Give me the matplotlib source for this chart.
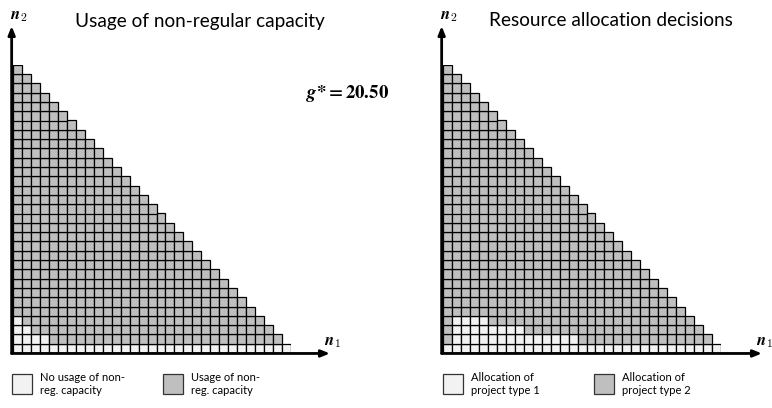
import numpy as np
import matplotlib
matplotlib.use("Agg")
import matplotlib.pyplot as plt
from matplotlib.patches import Rectangle

# grid of states n1 + n2 <= N
N = 30

# left panel: per row n2, the first k cells are white (no usage of non-regular capacity)
left_white_count = [31, 4, 2, 1]
# right panel: per row n2, the range of n1 that allocates project type 1
right_white_range = [(0, 30), (1, 14), (1, 8), (1, 4)]

titles = ["Usage of non-regular capacity", "Resource allocation decisions"]
legend_labels = [
    ["No usage of non-\nreg. capacity", "Usage of non-\nreg. capacity"],
    ["Allocation of\nproject type 1", "Allocation of\nproject type 2"],
]
g_star = 20.50

LIGHT = "#f2f2f2"
GREY = "#bfbfbf"

W, H = 772, 408
fig = plt.figure(figsize=(W / 100, H / 100), dpi=100)


def build_grid(white_rows):
    z = np.full((N + 1, N + 1), np.nan)
    for n2 in range(N + 1):
        for n1 in range(N + 1 - n2):
            z[n2, n1] = 1.0
    for n2, cells in enumerate(white_rows):
        for n1 in cells:
            if n1 + n2 <= N:
                z[n2, n1] = 0.0
    return z


left_cells = [range(k) for k in left_white_count]
right_cells = [range(a, b + 1) for a, b in right_white_range]
grids = [build_grid(left_cells), build_grid(right_cells)]

origins = [(13, 353), (443, 353)]
x_tips = [330, 762]
title_x = [200, 611]
cw, ch = 8.97, 9.3

for i, (ox, oy) in enumerate(origins):
    ax = fig.add_axes([ox / W, (H - oy) / H, (N + 1) * cw / W, (N + 1) * ch / H])
    z = grids[i]
    for n2 in range(N + 1):
        for n1 in range(N + 1):
            if np.isnan(z[n2, n1]):
                continue
            ax.add_patch(Rectangle((n1, n2), 1, 1, facecolor=LIGHT if z[n2, n1] == 0 else GREY,
                                   edgecolor="black", lw=0.9))
    ax.set_xlim(0, N + 1)
    ax.set_ylim(0, N + 1)
    ax.axis("off")

    # axes arrows
    x_tip = (x_tips[i] - ox) / cw
    y_tip = (oy - 26) / ch
    arrow = dict(arrowstyle="-|>,head_length=0.5,head_width=0.2", color="black", lw=2,
                 shrinkA=0, shrinkB=0)
    ax.annotate("", xy=(x_tip, -0.05), xytext=(-0.15, -0.05), arrowprops=arrow,
                annotation_clip=False)
    ax.annotate("", xy=(-0.15, y_tip), xytext=(-0.15, -0.05), arrowprops=arrow,
                annotation_clip=False)

    # axis labels
    fig.text((ox + 6) / W, 1 - 15 / H, r"$\mathbfit{n}_{\mathbf{2}}$", fontsize=12,
             ha="center", va="center", math_fontfamily="cm")
    fig.text((x_tips[i] + 2) / W, 1 - 341 / H, r"$\mathbfit{n}_{\mathbf{1}}$",
             fontsize=12, ha="center", va="center", math_fontfamily="cm")

    # title
    fig.text(title_x[i] / W, 1 - 21 / H, titles[i], fontsize=13.7,
             family="Lato", ha="center", va="center")

    # legend
    for j, lab in enumerate(legend_labels[i]):
        bx = ox + j * 151 - (1 if i == 0 else 0)
        fig.add_artist(Rectangle((bx / W, 1 - 394 / H), 20 / W, 20 / H,
                                 transform=fig.transFigure,
                                 facecolor=[LIGHT, GREY][j], edgecolor="#333333", lw=0.9))
        fig.text((bx + 28) / W, 1 - 384 / H, lab, fontsize=8, family="Lato",
                 ha="left", va="center", linespacing=1.25)

fig.text(306 / W, 1 - 93 / H, r"$\mathbfit{g}\mathbf{*{=}%.2f}$" % g_star,
         fontsize=13.5, ha="left", va="center", math_fontfamily="stix")

fig.savefig("out.png", dpi=100)
